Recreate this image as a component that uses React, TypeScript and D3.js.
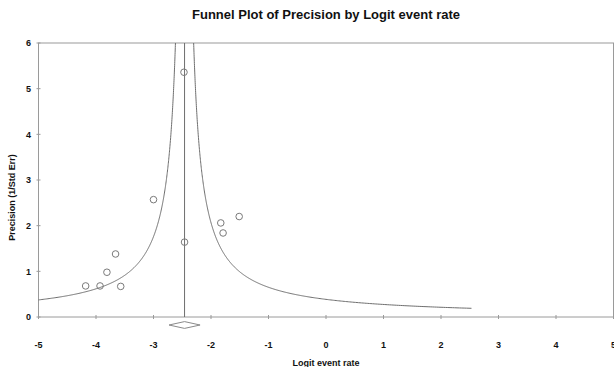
import React from "react";
import * as d3 from "d3";

const xTicks = [-5, -4, -3, -2, -1, 0, 1, 2, 3, 4, 5];
const yTicks = [0, 1, 2, 3, 4, 5, 6];
const studyLogit = [-3.0, -1.51, -1.83, -1.79, -2.46, -3.66, -3.81, -4.18, -3.93, -3.57, -2.47];
const studyPrecision = [2.57, 2.2, 2.06, 1.84, 1.64, 1.38, 0.98, 0.68, 0.68, 0.67, 5.36];
const pooled = [-2.46];
const pooledCI = [-2.73, -2.19];
const funnelConst = [0.95];
const funnelEnd = [2.53];

const W = 614;
const H = 367;
const L = 38.5;
const R = 613.5;
const T = 43;
const B = 317;

export default function App() {
  const x = d3.scaleLinear().domain([-5, 5]).range([L, R]);
  const y = d3.scaleLinear().domain([0, 6]).range([B, T]);
  const m = pooled[0];
  const c = funnelConst[0];
  const pMin = c / (funnelEnd[0] - m);
  const ps = d3.range(0, 401).map((i) => pMin * Math.pow(6 / pMin, i / 400));
  const line = d3
    .line<[number, number]>()
    .x((d) => x(d[0]))
    .y((d) => y(d[1]));
  const leftPath = line(ps.map((p) => [m - c / p, p] as [number, number]));
  const rightPath = line(ps.map((p) => [m + c / p, p] as [number, number]));
  const font = "Arial, 'Liberation Sans', sans-serif";
  const dy = 325;
  const dh = 3.4;
  const diamond = `M${x(pooledCI[0])},${dy} L${x(m)},${dy - dh} L${x(pooledCI[1])},${dy} L${x(m)},${dy + dh} Z`;
  return (
    <svg width={W} height={H} style={{ position: "absolute", left: 0, top: 0 }} fontFamily={font}>
      <defs>
        <clipPath id="plotclip">
          <rect x={L} y={T} width={R - L} height={B - T} />
        </clipPath>
      </defs>
      <rect x={0} y={0} width={W} height={H} fill="#fff" />
      <text x={326} y={19} textAnchor="middle" fontSize={13} fontWeight="bold" fill="#111">
        Funnel Plot of Precision by Logit event rate
      </text>
      <rect x={L} y={T} width={R - L} height={B - T} fill="none" stroke="#9a9a9a" strokeWidth={1} />
      {xTicks.map((t) => (
        <g key={"x" + t}>
          <line x1={x(t)} x2={x(t)} y1={B - 2} y2={B + 2} stroke="#9a9a9a" />
          <text x={x(t)} y={348} textAnchor="middle" fontSize={9} fontWeight="bold" fill="#111">
            {t}
          </text>
        </g>
      ))}
      {yTicks.map((t) => (
        <g key={"y" + t}>
          <line x1={L - 2} x2={L + 2} y1={y(t)} y2={y(t)} stroke="#9a9a9a" />
          <text x={31} y={y(t) + 3.2} textAnchor="end" fontSize={9} fontWeight="bold" fill="#111">
            {t}
          </text>
        </g>
      ))}
      <text x={326} y={366} textAnchor="middle" fontSize={9} fontWeight="bold" fill="#111">
        Logit event rate
      </text>
      <text
        transform={`translate(15,197.5) rotate(-90)`}
        textAnchor="middle"
        fontSize={9}
        fontWeight="bold"
        fill="#111"
      >
        Precision (1/Std Err)
      </text>
      <g clipPath="url(#plotclip)">
        <path d={leftPath ?? ""} fill="none" stroke="#6e6e6e" strokeWidth={1} />
        <path d={rightPath ?? ""} fill="none" stroke="#6e6e6e" strokeWidth={1} />
      </g>
      <line x1={x(m)} x2={x(m)} y1={T} y2={B} stroke="#6e6e6e" strokeWidth={1} />
      {studyLogit.map((v, i) => (
        <circle key={i} cx={x(v)} cy={y(studyPrecision[i])} r={3.3} fill="none" stroke="#7a7a7a" strokeWidth={1} />
      ))}
      <path d={diamond} fill="#fff" stroke="#8a8a8a" strokeWidth={1} />
    </svg>
  );
}
